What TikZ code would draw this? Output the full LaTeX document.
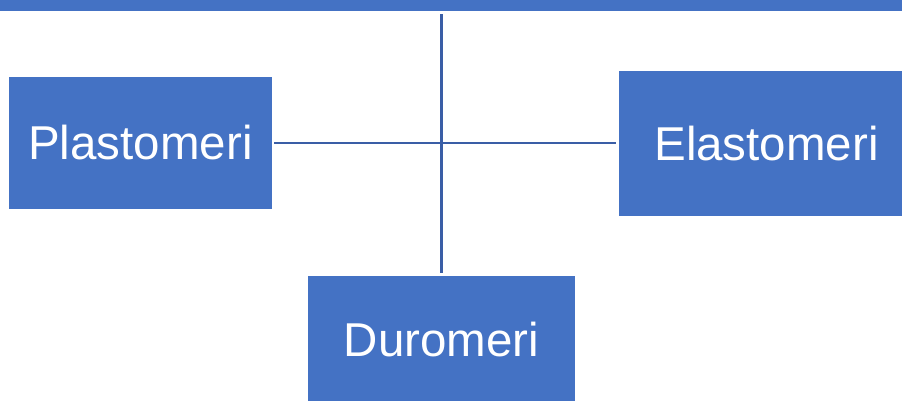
\documentclass[tikz,border=0pt]{standalone}
\usepackage{fontspec}
\setmainfont{Liberation Sans}
\definecolor{boxblue}{HTML}{4472C4}
\definecolor{lineblue}{HTML}{3A5EA6}
\begin{document}
\begin{tikzpicture}[x=1pt,y=-1pt,
  catbox/.style={draw=none,fill=boxblue,text=white,inner sep=0pt,
    font=\fontsize{47.5}{56}\selectfont,anchor=center},
  link/.style={draw=lineblue,line width=2.8pt,shorten <=2.5pt,shorten >=2.5pt}]
\useasboundingbox (0,0) rectangle (902,401);
\node[draw=none,fill=boxblue,minimum width=920pt,minimum height=17pt,inner sep=0pt] (bar) at (451,3) {};
\node[catbox,minimum width=262.4pt,minimum height=132.3pt] (pl) at (140.5,143) {Plastomeri};
\node[catbox,minimum width=295pt,minimum height=145pt] (el) at (766.5,143.5) {Elastomeri};
\node[catbox,minimum width=267.3pt,minimum height=128pt] (du) at (441.4,340) {Duromeri};
\draw[link] (pl.east) -- (pl.east -| el.west);
\draw[link] (bar.south -| du.north) -- (du.north);
\end{tikzpicture}
\end{document}
